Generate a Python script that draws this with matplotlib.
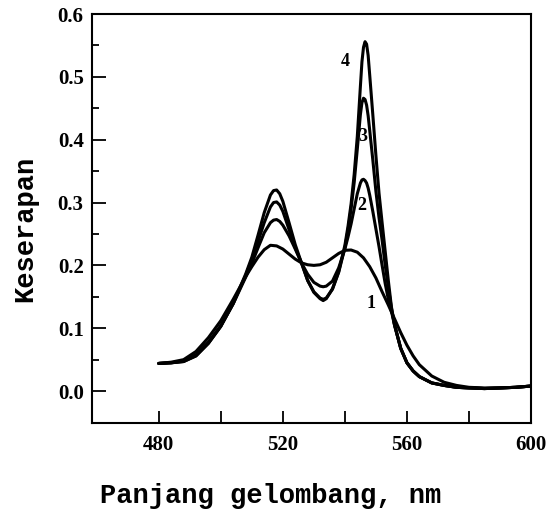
import numpy as np
import matplotlib
matplotlib.use("Agg")
import matplotlib.pyplot as plt
from matplotlib.ticker import MultipleLocator, FixedLocator

# Data (wavelength in nm, absorbance)
wl_1 = [480, 484, 488, 492, 496, 500, 504, 508, 510, 512, 514, 516, 518, 520,
        522, 524, 526, 528, 530, 532, 534, 536, 538, 540, 542, 544, 546, 548,
        550, 552, 554, 556, 558, 560, 562, 564, 568, 572, 576, 580, 585, 590,
        595, 600]
abs_1 = [0.044, 0.046, 0.050, 0.063, 0.085, 0.112, 0.146, 0.182, 0.198, 0.213,
         0.225, 0.232, 0.231, 0.226, 0.218, 0.210, 0.204, 0.201, 0.200, 0.201,
         0.205, 0.212, 0.219, 0.224, 0.2245, 0.221, 0.212, 0.198, 0.180, 0.158,
         0.137, 0.115, 0.093, 0.073, 0.056, 0.042, 0.024, 0.014, 0.009, 0.006,
         0.005, 0.005, 0.006, 0.008]

wl_peaks = [480, 484, 488, 492, 496, 500, 504, 508, 510, 512, 514, 516, 517,
            518, 519, 520, 522, 524, 526, 528, 530, 532, 533, 534, 536, 538,
            540, 541, 542, 543, 544, 545, 545.5, 546, 546.5, 547, 547.5, 548,
            549, 550, 551, 552, 553, 554, 555, 556, 558, 560, 562, 564, 568,
            572, 576, 580, 585, 590, 595, 600]
abs_2 = [0.044, 0.045, 0.048, 0.058, 0.078, 0.104, 0.139, 0.181, 0.203, 0.228,
         0.252, 0.268, 0.272, 0.273, 0.270, 0.264, 0.247, 0.226, 0.204, 0.186,
         0.173, 0.167, 0.166, 0.167, 0.175, 0.196, 0.226, 0.245, 0.266, 0.290,
         0.314, 0.331, 0.336, 0.337, 0.335, 0.331, 0.323, 0.312, 0.286, 0.258,
         0.230, 0.200, 0.171, 0.146, 0.127, 0.105, 0.068, 0.045, 0.032, 0.023,
         0.013, 0.009, 0.006, 0.005, 0.004, 0.005, 0.006, 0.008]
abs_3 = [0.044, 0.045, 0.047, 0.056, 0.076, 0.103, 0.139, 0.184, 0.209, 0.238,
         0.268, 0.293, 0.300, 0.301, 0.296, 0.286, 0.257, 0.228, 0.204, 0.176,
         0.158, 0.148, 0.146, 0.148, 0.162, 0.189, 0.228, 0.256, 0.290, 0.332,
         0.385, 0.440, 0.459, 0.466, 0.464, 0.455, 0.438, 0.415, 0.368, 0.318,
         0.276, 0.240, 0.200, 0.165, 0.132, 0.105, 0.068, 0.045, 0.032, 0.023,
         0.013, 0.009, 0.006, 0.005, 0.004, 0.005, 0.006, 0.008]
abs_4 = [0.044, 0.045, 0.047, 0.056, 0.076, 0.103, 0.140, 0.186, 0.213, 0.248,
         0.284, 0.312, 0.319, 0.320, 0.314, 0.302, 0.268, 0.233, 0.204, 0.176,
         0.157, 0.147, 0.144, 0.147, 0.163, 0.190, 0.232, 0.262, 0.298, 0.345,
         0.405, 0.485, 0.524, 0.547, 0.556, 0.552, 0.534, 0.503, 0.440, 0.375,
         0.315, 0.268, 0.222, 0.176, 0.134, 0.106, 0.068, 0.045, 0.032, 0.023,
         0.013, 0.009, 0.006, 0.005, 0.004, 0.005, 0.006, 0.008]

# curve labels: text, x, y
labels = ["1", "2", "3", "4"]
label_x = [548.3, 545.3, 545.7, 540.0]
label_y = [0.140, 0.296, 0.405, 0.524]

fig = plt.figure(figsize=(5.48, 5.13), dpi=100)
ax = fig.add_axes([0.168, 0.1764, 0.801, 0.7963])

for wl, a in [(wl_1, abs_1), (wl_peaks, abs_2), (wl_peaks, abs_3), (wl_peaks, abs_4)]:
    ax.plot(wl, a, color="black", lw=2.2, solid_capstyle="round",
            solid_joinstyle="round")

for t, lx, ly in zip(labels, label_x, label_y):
    ax.text(lx, ly, t, fontsize=13, family="Liberation Serif", fontweight="bold",
            ha="center", va="center")

ax.set_xlim(458.5, 600)
ax.set_ylim(-0.05, 0.6)

ax.xaxis.set_major_locator(FixedLocator([480, 520, 560, 600]))
ax.xaxis.set_minor_locator(FixedLocator([500, 540, 580]))
ax.yaxis.set_major_locator(MultipleLocator(0.1))
ax.yaxis.set_minor_locator(MultipleLocator(0.05))
ax.yaxis.set_major_formatter(matplotlib.ticker.FormatStrFormatter("%.1f"))

ax.tick_params(axis="x", which="both", direction="in", length=8.6, width=1.3,
               pad=9, labelsize=15)
ax.tick_params(axis="y", which="major", direction="in", length=10, width=1.3,
               pad=6, labelsize=15)
ax.tick_params(axis="y", which="minor", direction="in", length=5, width=1.3)
for lab in ax.get_xticklabels() + ax.get_yticklabels():
    lab.set_family("Liberation Serif")
    lab.set_fontweight("bold")

for s in ax.spines.values():
    s.set_linewidth(1.5)

fig.text(0.493, 0.0195, "Panjang gelombang, nm", family="Liberation Mono",
         fontsize=19.5, fontweight="bold", ha="center", va="baseline")
fig.text(0.046, 0.554, "Keserapan", family="Liberation Mono", fontsize=19.5,
         fontweight="bold", rotation=90, ha="center", va="center")

fig.savefig("out.png", dpi=100)
